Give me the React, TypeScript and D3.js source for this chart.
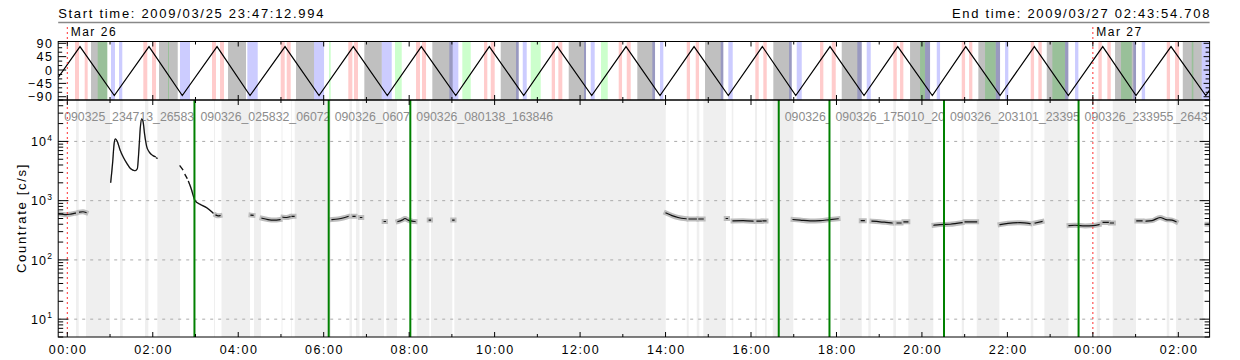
import React from 'react';
import * as d3 from 'd3';

// time in hours relative to 2009/03/26 00:00
const T_START = -0.213057; // 2009/03/25 23:47:12.994
const T_END = 26.731863; // 2009/03/27 02:43:54.708
const startLabel = 'Start time: 2009/03/25 23:47:12.994';
const endLabel = 'End time: 2009/03/27 02:43:54.708';
const dayMarks: [number, string][] = [[0, 'Mar 26'], [24, 'Mar 27']];

const xTickHours = [0, 2, 4, 6, 8, 10, 12, 14, 16, 18, 20, 22, 24, 26];
const xTickLabels = ['00:00', '02:00', '04:00', '06:00', '08:00', '10:00', '12:00', '14:00', '16:00', '18:00', '20:00', '22:00', '00:00', '02:00'];
const topTicks = [90, 45, 0, -45, -90];
const topTickLabels = ['90', '45', '0', '\u221245', '\u221290'];
const mainTicks = [10, 100, 1000, 10000];
const mainTickExp = ['1', '2', '3', '4'];

// orbit angle wave (vertices)
const wavePoints: [number, number][] = [
  [-0.213, -25], [0.297, 79], [1.1, -86], [1.912, 79], [2.691, -86], [3.504, 79], [4.276, -86], [5.095, 79],
  [5.891, -86], [6.693, 79], [7.489, -86], [8.285, 79], [9.09, -86], [9.876, 79], [10.681, -86], [11.467, 79],
  [12.272, -86], [13.075, 79], [13.871, -86], [14.667, 79], [15.469, -86], [16.265, 79], [17.047, -86], [17.849, 79],
  [18.645, -86], [19.434, 79], [20.243, -86], [21.025, 79], [21.828, -86], [22.63, 79], [23.426, -86], [24.231, 79],
  [25.01, -86], [25.829, 79], [26.642, -86], [26.732, -68],
];

const pinkBands: [number, number][] = [
  [0.18, 0.274], [0.407, 0.477], [1.779, 1.872], [1.982, 2.076], [3.386, 3.48], [3.574, 3.667], [4.994, 5.088], [5.135, 5.228],
  [6.576, 6.67], [6.71, 6.803], [8.161, 8.254], [8.301, 8.395], [9.752, 9.829], [9.909, 10.002], [11.336, 11.413], [11.491, 11.584],
  [12.904, 12.982], [13.092, 13.185], [14.496, 14.573], [14.706, 14.784], [16.101, 16.181], [16.288, 16.368], [17.615, 17.693], [17.889, 17.983],
  [19.331, 19.411], [19.488, 19.565], [20.931, 21.009], [21.103, 21.18], [22.546, 22.624], [22.724, 22.804], [24.129, 24.208], [24.339, 24.419],
  [25.729, 25.806], [25.923, 26.017],
];
const grayBands: [number, number][] = [
  [0.555, 0.936], [2.146, 2.584], [3.761, 4.182], [5.352, 5.774], [6.951, 7.358], [8.542, 9.019], [10.143, 10.564], [11.734, 12.139],
  [13.339, 13.754], [14.924, 15.352], [16.522, 16.953], [18.123, 18.591], [19.722, 20.19], [21.32, 21.828], [22.921, 23.426], [24.519, 25.01],
  [26.104, 26.548],
];
const greenBands: [number, number][] = [
  [0.711, 0.936], [2.357, 2.38], [6.125, 6.164], [7.669, 7.826], [9.244, 9.441], [10.845, 11.079], [12.49, 12.647], [19.956, 20.073],
  [21.477, 21.728], [23.052, 23.35], [24.659, 24.91], [26.314, 26.352],
];
const blueBands: [number, number][] = [
  [1.023, 1.116], [1.21, 1.287], [2.637, 2.871], [4.213, 4.456], [5.774, 6.008], [7.358, 7.592], [8.94, 9.151], [10.501, 10.564],
  [10.658, 10.751], [12.092, 12.139], [12.249, 12.342], [13.691, 13.754], [13.871, 13.948], [15.291, 15.352], [15.469, 15.572], [16.89, 16.953],
  [17.07, 17.187], [18.488, 18.591], [18.708, 18.802], [20.073, 20.19], [20.347, 20.424], [21.728, 21.828], [21.945, 22.022], [23.35, 23.426],
  [23.583, 23.661], [24.947, 25.01], [25.144, 25.222], [26.548, 26.732],
];

// intervals with data (white background in the light curve panel)
const dataIntervals: [number, number][] = [
  [-0.213, 0.204], [0.267, 0.438], [0.999, 1.233], [1.297, 1.818], [1.896, 2.108], [2.637, 3.433], [3.457, 3.609], [4.276, 4.369],
  [4.533, 5.013], [5.036, 5.235], [5.252, 5.322], [6.171, 6.604], [6.663, 6.756], [6.838, 6.897], [7.412, 7.47], [7.716, 8.177],
  [8.472, 8.512], [9.01, 9.057], [14.004, 14.496], [14.542, 14.73], [14.791, 14.884], [15.415, 15.549], [15.586, 16.094], [16.141, 16.328],
  [16.368, 16.509], [16.99, 18.083], [18.591, 18.746], [18.802, 19.331], [19.394, 19.682], [20.267, 20.931], [20.985, 21.282], [21.812, 22.546],
  [22.607, 22.865], [23.426, 24.09], [24.167, 24.465], [25.01, 25.729], [25.79, 25.947], [26.586, 26.732],
];

// observation segment boundaries and (visible part of the) names
const segStarts = [-0.213057, 2.9756, 6.1172, 8.0272, 16.6489, 17.8361, 20.5169, 23.6653];
const segNames = [
  '090325_234713_26583', '090326_025832_06072', '090326_0607', '090326_080138_163846',
  '090326_', '090326_175010_20', '090326_203101_23395', '090326_233955_2643',
];

// count rate [c/s]
const countSegments: [number, number][][] = [
  [[-0.206, 600], [-0.124, 590], [-0.03, 580], [0.063, 590], [0.157, 610], [0.19, 615]],
  [[0.286, 640], [0.367, 650], [0.438, 630]],
  [[1.016, 2050], [1.063, 4600], [1.093, 8800], [1.123, 11000], [1.17, 10000], [1.233, 7250], [1.311, 5400], [1.39, 4300],
    [1.484, 3450], [1.584, 3200], [1.638, 3450], [1.678, 7700], [1.708, 16800], [1.741, 24000], [1.772, 21700], [1.811, 12900],
    [1.858, 8200], [1.919, 6600], [1.999, 5800], [2.06, 5500]],
  [[2.09, 5250], [2.1, 5200]],
  [[2.637, 3850], [2.701, 3350]],
  [[2.755, 2750], [2.801, 2400]],
  [[2.836, 2100], [2.911, 1500], [2.942, 1250], [2.989, 1000], [3.106, 870], [3.262, 760], [3.379, 650], [3.41, 620]],
  [[3.48, 570], [3.53, 555], [3.574, 560]],
  [[4.299, 570], [4.346, 565]],
  [[4.557, 505], [4.697, 480], [4.837, 470], [4.978, 480]],
  [[5.048, 525], [5.13, 520], [5.212, 535]],
  [[5.259, 545], [5.306, 545]],
  [[6.195, 480], [6.335, 490], [6.475, 515], [6.569, 540]],
  [[6.686, 545], [6.733, 545]],
  [[6.86, 520], [6.89, 520]],
  [[7.415, 445], [7.445, 445]],
  [[7.739, 445], [7.833, 470], [7.903, 500], [7.974, 470], [8.067, 450], [8.137, 445]],
  [[8.47, 470], [8.5, 470]],
  [[9.02, 470], [9.05, 470]],
  [[14.011, 620], [14.152, 560], [14.292, 520], [14.479, 495]],
  [[14.55, 490], [14.72, 490]],
  [[14.78, 490], [14.88, 490]],
  [[15.42, 500], [15.45, 500]],
  [[15.579, 455], [15.813, 460], [16.047, 450]],
  [[16.14, 450], [16.24, 450]],
  [[16.28, 455], [16.35, 455]],
  [[16.984, 480], [17.148, 470], [17.382, 455], [17.616, 460], [17.85, 480], [18.037, 495]],
  [[18.58, 460], [18.65, 460]],
  [[18.832, 450], [19.019, 440], [19.16, 430], [19.3, 420]],
  [[19.42, 420], [19.51, 420]],
  [[19.58, 440], [19.67, 440]],
  [[20.283, 385], [20.424, 395], [20.658, 400], [20.939, 425]],
  [[21.01, 440], [21.28, 440]],
  [[21.828, 395], [22.015, 415], [22.296, 425], [22.53, 410]],
  [[22.65, 420], [22.81, 445]],
  [[23.443, 380], [23.583, 385], [23.817, 375], [24.005, 380], [24.145, 395]],
  [[24.24, 430], [24.36, 430]],
  [[24.41, 420], [24.48, 420]],
  [[25.03, 455], [25.15, 455]],
  [[25.245, 450], [25.385, 460], [25.573, 520], [25.713, 480], [25.853, 470], [25.947, 440]],
  [[26.672, 400], [26.732, 400]],
];

const FONT = '"Liberation Sans", Arial, Helvetica, sans-serif';
const X0 = 58.2, X1 = 1209.6;
const TOP_Y0 = 41.5, TOP_Y1 = 100;
const MAIN_Y0 = 100, MAIN_Y1 = 337;

export default function App() {
  const x = d3.scaleLinear().domain([T_START, T_END]).range([X0, X1]);
  const yTop = d3.scaleLinear().domain([-101, 96]).range([TOP_Y1, TOP_Y0]);
  const yMain = d3.scaleLog().domain([5, 50000]).range([MAIN_Y1, MAIN_Y0]);

  const waveLine = d3.line<[number, number]>().x(d => x(d[0])).y(d => yTop(d[1]));
  const countLine = d3.line<[number, number]>().x(d => x(d[0])).y(d => yMain(d[1])).curve(d3.curveMonotoneX);

  const clampX = (t: number) => Math.max(X0, Math.min(X1, x(t)));
  const band = (b: [number, number], fill: string, y0: number, y1: number, key: string) => (
    <rect key={key} x={clampX(b[0])} y={y0} width={Math.max(0, clampX(b[1]) - clampX(b[0]))} height={y1 - y0} fill={fill} />
  );

  const hourTicks = d3.range(0, 27);
  const minorMain: number[] = [];
  [1, 10, 100, 1000, 10000].forEach(d => {
    for (let k = 2; k <= 9; k++) {
      const v = d * k;
      if (v >= 5 && v <= 50000) minorMain.push(v);
    }
  });
  const minorTop = d3.range(-90, 91, 15).filter(v => v % 45 !== 0);

  const segEnds = segStarts.slice(1).concat([T_END]);

  return (
    <svg width={1240} height={360} style={{ position: 'absolute', left: 0, top: 0, background: '#fff' }}
      fontFamily={FONT}>
      <defs>
        <clipPath id="topClip"><rect x={X0} y={TOP_Y0} width={X1 - X0} height={TOP_Y1 - TOP_Y0} /></clipPath>
        <clipPath id="mainClip"><rect x={X0} y={MAIN_Y0} width={X1 - X0} height={MAIN_Y1 - MAIN_Y0} /></clipPath>
        {segStarts.map((s, i) => (
          <clipPath key={i} id={`lab${i}`}>
            <rect x={x(s)} y={MAIN_Y0} width={x(segEnds[i]) - x(s)} height={40} />
          </clipPath>
        ))}
      </defs>

      {/* header */}
      <text x={X0} y={18.3} fontSize={13} letterSpacing={1.7} fill="#000">{startLabel}</text>
      <text x={X1 + 1.5} y={18.3} fontSize={13} letterSpacing={1.7} textAnchor="end" fill="#000">{endLabel}</text>
      <line x1={X0} x2={X1} y1={22.5} y2={22.5} stroke="#888" strokeWidth={1.5} />

      {/* top panel bands */}
      <g clipPath="url(#topClip)" style={{ isolation: 'isolate' }}>
        {pinkBands.map((b, i) => band(b, '#ffcccc', TOP_Y0, TOP_Y1, 'p' + i))}
        {greenBands.map((b, i) => band(b, '#ccffcc', TOP_Y0, TOP_Y1, 'g' + i))}
        {blueBands.map((b, i) => band(b, '#ccccff', TOP_Y0, TOP_Y1, 'b' + i))}
        <g style={{ mixBlendMode: 'multiply' }}>
          {grayBands.map((b, i) => band(b, '#c0c0c0', TOP_Y0, TOP_Y1, 'k' + i))}
        </g>
        <path d={waveLine(wavePoints) || ''} fill="none" stroke="#000" strokeWidth={1.2} />
      </g>

      {/* main panel background */}
      <rect x={X0} y={MAIN_Y0} width={X1 - X0} height={MAIN_Y1 - MAIN_Y0} fill="#efefef" />
      <g clipPath="url(#mainClip)">
        {dataIntervals.map((b, i) => band(b, '#ffffff', MAIN_Y0, MAIN_Y1, 'w' + i))}
        {mainTicks.map(v => (
          <line key={v} x1={X0} x2={X1} y1={yMain(v)} y2={yMain(v)} stroke="#aaa" strokeWidth={1} strokeDasharray="3,5" />
        ))}
      </g>

      {/* segment labels */}
      {segStarts.map((s, i) => (
        <text key={i} x={x(s) + 6} y={120.7} fontSize={12.3} fill="#8c8c8c" clipPath={`url(#lab${i})`}>{segNames[i]}</text>
      ))}

      {/* light curve */}
      <g clipPath="url(#mainClip)">
        {countSegments.map((seg, i) => (
          <path key={'e' + i} d={countLine(seg) || ''} fill="none" stroke="#bdbdbd"
            strokeWidth={d3.max(seg, d => d[1])! > 1500 ? 1.5 : 5} strokeLinecap="square" />
        ))}
        {countSegments.map((seg, i) => (
          <path key={'l' + i} d={countLine(seg) || ''} fill="none" stroke="#111" strokeWidth={1.2} strokeLinecap="square" />
        ))}
      </g>

      {/* segment boundaries */}
      {segStarts.slice(1).map((s, i) => (
        <line key={i} x1={x(s)} x2={x(s)} y1={MAIN_Y0} y2={MAIN_Y1} stroke="#008000" strokeWidth={2} />
      ))}

      {/* day marks */}
      {dayMarks.map(([t, lab]) => (
        <g key={lab}>
          <line x1={x(t)} x2={x(t)} y1={27} y2={MAIN_Y1} stroke="#ff3030" strokeWidth={1} strokeDasharray="2,3" />
          <text x={x(t) + 3.4} y={36} fontSize={12} letterSpacing={1.5} fill="#000">{lab}</text>
        </g>
      ))}

      {/* frames */}
      <rect x={X0} y={TOP_Y0} width={X1 - X0} height={TOP_Y1 - TOP_Y0} fill="none" stroke="#000" strokeWidth={1} />
      <rect x={X0} y={MAIN_Y0} width={X1 - X0} height={MAIN_Y1 - MAIN_Y0} fill="none" stroke="#000" strokeWidth={1} />

      {/* x ticks */}
      {hourTicks.map(h => {
        const xx = x(h);
        const len = h % 2 === 0 ? 5 : 3;
        return (
          <g key={h} stroke="#000" strokeWidth={1}>
            <line x1={xx} x2={xx} y1={TOP_Y0} y2={TOP_Y0 + len} />
            <line x1={xx} x2={xx} y1={TOP_Y1} y2={TOP_Y1 - len} />
            <line x1={xx} x2={xx} y1={MAIN_Y0} y2={MAIN_Y0 + len} />
            <line x1={xx} x2={xx} y1={MAIN_Y1} y2={MAIN_Y1 - len} />
          </g>
        );
      })}
      {xTickHours.map((h, i) => (
        <text key={h} x={x(h) + 0.8} y={353.5} fontSize={12.5} letterSpacing={1.5} textAnchor="middle" fill="#000">{xTickLabels[i]}</text>
      ))}

      {/* top panel y ticks */}
      {topTicks.map((v, i) => (
        <g key={v}>
          <line x1={X0} x2={X0 + 8} y1={yTop(v)} y2={yTop(v)} stroke="#000" />
          <line x1={X1} x2={X1 - 6} y1={yTop(v)} y2={yTop(v)} stroke="#000" />
          <text x={53.5} y={yTop(v)} dy="0.36em" fontSize={12.5} letterSpacing={1.5} textAnchor="end" fill="#000">{topTickLabels[i]}</text>
        </g>
      ))}
      {minorTop.map(v => (
        <g key={v} stroke="#000">
          <line x1={X0} x2={X0 + 4} y1={yTop(v)} y2={yTop(v)} />
          <line x1={X1} x2={X1 - 4} y1={yTop(v)} y2={yTop(v)} />
        </g>
      ))}

      {/* main y ticks */}
      {mainTicks.map((v, i) => (
        <g key={v}>
          <line x1={X0} x2={X0 + 10} y1={yMain(v)} y2={yMain(v)} stroke="#000" />
          <line x1={X1} x2={X1 - 10} y1={yMain(v)} y2={yMain(v)} stroke="#000" />
          <text x={52} y={yMain(v)} dy="0.38em" fontSize={12.5} textAnchor="end" fill="#000">
            <tspan letterSpacing={1.2}>10</tspan>
            <tspan fontSize={8.5} dy={-5.5}>{mainTickExp[i]}</tspan>
          </text>
        </g>
      ))}
      {minorMain.map(v => (
        <g key={v} stroke="#000">
          <line x1={X0} x2={X0 + 5} y1={yMain(v)} y2={yMain(v)} />
          <line x1={X1} x2={X1 - 5} y1={yMain(v)} y2={yMain(v)} />
        </g>
      ))}

      <text transform={`translate(21,218) rotate(-90)`} fontSize={13} letterSpacing={1.7} textAnchor="middle"
        dominantBaseline="central" fill="#000">Countrate [c/s]</text>
    </svg>
  );
}
